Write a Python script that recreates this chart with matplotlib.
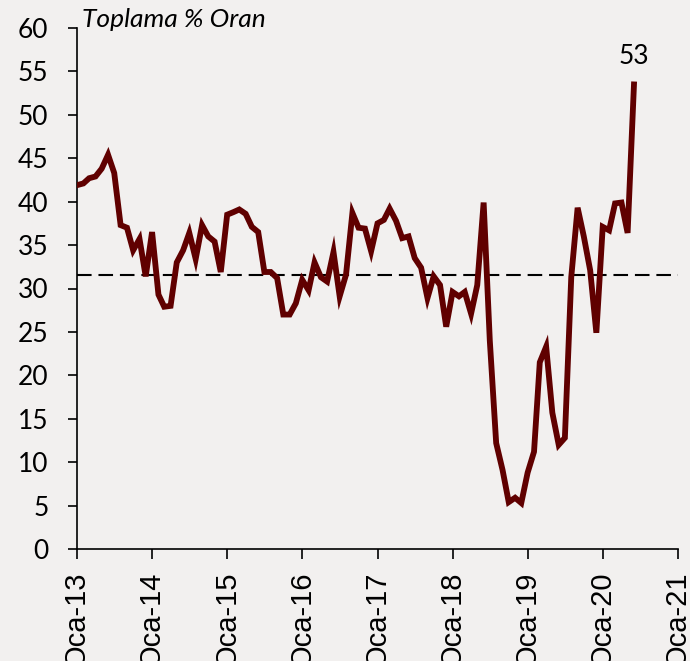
import matplotlib

matplotlib.use("Agg")
import matplotlib.pyplot as plt
import pandas as pd

# monthly ratio, Jan 2013 - Jun 2020
values = [
    41.9, 42.1, 42.7, 42.9, 43.8, 45.4, 43.3, 37.3, 37.0, 34.4, 35.7, 31.4,
    36.5, 29.3, 27.9, 28.0, 33.0, 34.4, 36.4, 33.4, 37.3, 36.0, 35.4, 31.9,
    38.5, 38.8, 39.1, 38.6, 37.1, 36.5, 31.9, 31.9, 31.2, 27.0, 27.0, 28.3,
    31.0, 29.8, 33.0, 31.3, 30.8, 34.2, 29.1, 31.6, 38.7, 37.0, 36.9, 34.3,
    37.5, 37.9, 39.2, 37.8, 35.8, 36.0, 33.5, 32.4, 28.9, 31.4, 30.4, 25.6,
    29.6, 29.1, 29.6, 27.1, 30.4, 39.9, 24.0, 12.2, 9.1, 5.4, 5.9, 5.3,
    8.8, 11.2, 21.5, 23.3, 15.7, 12.0, 12.8, 31.3, 39.3, 36.0, 32.1, 24.9,
    37.1, 36.7, 39.8, 39.9, 36.4, 53.5,
]
dates = pd.date_range("2013-01-01", periods=len(values), freq="MS")
average = 31.6
last_label = "53"
years = list(range(2013, 2022))
tick_dates = [pd.Timestamp(f"{y}-01-01") for y in years]
tick_labels = [f"Oca-{y % 100:02d}" for y in years]
y_ticks = list(range(0, 61, 5))

BG = "#f2f0ef"
LINE = "#600000"

fig = plt.figure(figsize=(6.9, 6.61), dpi=100, facecolor=BG)
ax = fig.add_axes([77 / 690, 112 / 661, 601 / 690, 521 / 661], facecolor=BG)

ax.plot(dates, values, color=LINE, lw=4.2, solid_joinstyle="miter", zorder=3)
ax.axhline(average, color="black", lw=1.5, linestyle=(0, (7, 3.3)), zorder=2)

ax.annotate(last_label, (dates[-1], values[-1]), xytext=(0, 20),
            textcoords="offset points", ha="center", va="center",
            fontsize=19, family="Lato")

ax.set_xlim(tick_dates[0], tick_dates[-1])
ax.set_ylim(0, 60)
ax.set_xticks(tick_dates)
ax.set_xticklabels(tick_labels, rotation=90, fontsize=21, family="Liberation Sans")
ax.set_yticks(y_ticks)
ax.set_yticklabels([str(v) for v in y_ticks], fontsize=19, family="Lato")
ax.tick_params(axis="y", length=6.5, width=1.2, pad=14)
ax.tick_params(axis="x", length=7, width=1.2, pad=9)

for side in ("top", "right"):
    ax.spines[side].set_visible(False)
for side in ("left", "bottom"):
    ax.spines[side].set_linewidth(1.2)

fig.text(82 / 690, 1 - 27 / 661, "Toplama % Oran", fontsize=19,
         family="Lato", style="italic", va="baseline", ha="left")

fig.savefig("out.png", dpi=100, facecolor=BG)
